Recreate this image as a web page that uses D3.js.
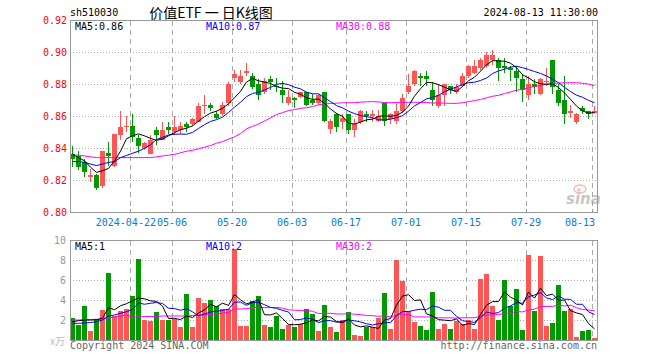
<!DOCTYPE html>
<html><head><meta charset="utf-8">
<script src="https://cdn.jsdelivr.net/npm/d3@7"></script>
<style>
html,body{margin:0;padding:0;background:#fff;}
svg{display:block;}
text{font-family:"DejaVu Sans Mono",monospace;font-size:10px;}
</style></head><body>
<svg id="chart" width="660" height="360"></svg>
<script>
// ---------- data ----------
const dates = [
"2024-04-08","2024-04-09","2024-04-10","2024-04-11","2024-04-12","2024-04-15","2024-04-16","2024-04-17","2024-04-18","2024-04-19",
"2024-04-22","2024-04-23","2024-04-24","2024-04-25","2024-04-26","2024-04-29","2024-04-30","2024-05-06","2024-05-07","2024-05-08",
"2024-05-09","2024-05-10","2024-05-13","2024-05-14","2024-05-15","2024-05-16","2024-05-17","2024-05-20","2024-05-21","2024-05-22",
"2024-05-23","2024-05-24","2024-05-27","2024-05-28","2024-05-29","2024-05-30","2024-05-31","2024-06-03","2024-06-04","2024-06-05",
"2024-06-06","2024-06-07","2024-06-11","2024-06-12","2024-06-13","2024-06-14","2024-06-17","2024-06-18","2024-06-19","2024-06-20",
"2024-06-21","2024-06-24","2024-06-25","2024-06-26","2024-06-27","2024-06-28","2024-07-01","2024-07-02","2024-07-03","2024-07-04",
"2024-07-05","2024-07-08","2024-07-09","2024-07-10","2024-07-11","2024-07-12","2024-07-15","2024-07-16","2024-07-17","2024-07-18",
"2024-07-19","2024-07-22","2024-07-23","2024-07-24","2024-07-25","2024-07-26","2024-07-29","2024-07-30","2024-07-31","2024-08-01",
"2024-08-02","2024-08-05","2024-08-06","2024-08-07","2024-08-08","2024-08-09","2024-08-12","2024-08-13"];

const open = [
0.836,0.835,0.831,0.822,0.823,0.816,0.837,0.829,0.848,0.853,
0.854,0.846,0.840,0.836,0.851,0.845,0.853,0.850,0.851,0.855,
0.855,0.856,0.866,0.867,0.861,0.861,0.868,0.884,0.881,0.887,
0.885,0.880,0.875,0.883,0.879,0.876,0.868,0.871,0.872,0.875,
0.870,0.868,0.875,0.852,0.861,0.856,0.861,0.851,0.856,0.861,
0.860,0.857,0.868,0.858,0.857,0.863,0.875,0.880,0.885,0.885,
0.876,0.866,0.873,0.879,0.875,0.879,0.885,0.887,0.890,0.891,
0.895,0.895,0.891,0.890,0.888,0.883,0.873,0.880,0.874,0.881,
0.895,0.876,0.870,0.862,0.856,0.865,0.863,0.862];
const high = [
0.841,0.838,0.833,0.827,0.824,0.838,0.844,0.849,0.863,0.860,
0.861,0.848,0.844,0.848,0.853,0.856,0.856,0.860,0.856,0.856,
0.859,0.868,0.873,0.868,0.863,0.869,0.881,0.889,0.889,0.893,
0.887,0.883,0.884,0.885,0.884,0.882,0.876,0.872,0.875,0.875,
0.874,0.874,0.875,0.858,0.862,0.861,0.861,0.858,0.864,0.863,
0.864,0.864,0.868,0.862,0.868,0.874,0.886,0.889,0.887,0.888,
0.881,0.880,0.880,0.879,0.880,0.887,0.892,0.895,0.896,0.900,
0.901,0.896,0.896,0.891,0.891,0.886,0.885,0.883,0.884,0.890,
0.895,0.880,0.885,0.867,0.862,0.866,0.863,0.866];
const low = [
0.828,0.826,0.822,0.819,0.814,0.815,0.829,0.828,0.845,0.850,
0.844,0.837,0.839,0.836,0.842,0.845,0.849,0.848,0.849,0.850,
0.854,0.856,0.861,0.863,0.858,0.860,0.866,0.881,0.880,0.885,
0.877,0.870,0.874,0.876,0.875,0.868,0.867,0.865,0.871,0.866,
0.867,0.867,0.856,0.849,0.850,0.852,0.849,0.847,0.855,0.856,
0.856,0.856,0.854,0.855,0.855,0.862,0.874,0.879,0.879,0.879,
0.866,0.865,0.866,0.874,0.874,0.878,0.884,0.886,0.889,0.890,
0.892,0.882,0.887,0.882,0.875,0.869,0.870,0.874,0.873,0.879,
0.874,0.866,0.855,0.859,0.855,0.861,0.858,0.861];
const close = [
0.833,0.828,0.825,0.823,0.815,0.838,0.835,0.849,0.853,0.854,
0.847,0.841,0.843,0.845,0.848,0.851,0.851,0.853,0.854,0.853,
0.858,0.866,0.867,0.865,0.859,0.867,0.880,0.886,0.885,0.888,
0.878,0.873,0.882,0.881,0.878,0.873,0.872,0.870,0.875,0.867,
0.868,0.873,0.857,0.857,0.853,0.859,0.851,0.855,0.863,0.860,
0.861,0.860,0.857,0.861,0.863,0.871,0.879,0.888,0.884,0.883,
0.870,0.873,0.880,0.876,0.878,0.885,0.891,0.891,0.895,0.898,
0.898,0.890,0.890,0.889,0.884,0.876,0.880,0.878,0.883,0.882,
0.878,0.868,0.861,0.863,0.861,0.863,0.861,0.863];
// volume, in units of 10k lots
const volume = [
2.23,1.5,3.4,0.93,2.07,3.0,6.73,2.4,2.93,3.1,
4.43,8.13,2.0,1.93,2.83,2.0,2.0,2.07,1.3,4.6,
1.3,4.2,3.7,4.0,3.4,3.1,3.1,9.1,1.4,1.4,
3.93,4.4,1.5,1.3,2.4,1.1,1.5,1.3,1.6,3.1,
2.6,0.95,3.5,1.33,0.83,2.0,2.83,0.5,0.4,1.33,
1.33,2.23,4.73,1.1,8.0,5.93,2.9,1.83,1.4,1.0,
4.83,1.1,1.6,1.1,1.93,1.6,2.0,1.1,6.1,6.6,
3.4,2.0,6.0,3.4,5.1,1.0,8.5,2.9,8.4,1.4,
1.73,5.5,2.9,3.13,0.3,0.9,1.0,0.2];

// moving-average values at the start of the window (read from the chart,
// their earlier inputs are not shown)
const priceMA5Head  = [0.836,0.834,0.832,0.828];
const priceMA10Head = [0.8315,0.8315,0.831,0.830,0.829,0.830,0.831,0.8315,0.834];
const priceMA30Head = [0.8355,0.8355,0.835,0.8345,0.834,0.834,0.834,0.834,0.834,0.834,
  0.834,0.834,0.834,0.834,0.8345,0.835,0.8355,0.836,0.837,0.838,
  0.8385,0.8395,0.8405,0.8415,0.843,0.844,0.8455,0.847,0.849];
const volMA5Head  = [1.83,1.93,2.0,2.0];
const volMA10Head = [1.67,1.67,1.7,1.75,1.83,2.0,2.4,2.5,2.67];
const volMA30Head = [2.0,2.0,2.03,2.05,2.07,2.1,2.2,2.3,2.4,2.5,
  2.3,2.3,2.35,2.35,2.35,2.4,2.4,2.4,2.4,2.4,
  2.45,2.5,2.5,2.55,2.6,2.7,2.75,3.1,3.1];

const tickDates  = ["2024-04-22","2024-05-06","2024-05-20","2024-06-03","2024-06-17","2024-07-01","2024-07-15","2024-07-29","2024-08-13"];
const tickLabels = ["2024-04-22","05-06","05-20","06-03","06-17","07-01","07-15","07-29","08-13"];
const priceTicks = [0.80,0.82,0.84,0.86,0.88,0.90,0.92];
const volTicks = [2,4,6,8,10];
const priceLegend = ["MA5:0.86","MA10:0.87","MA30:0.88"];
const volLegend = ["MA5:1","MA10:2","MA30:2"];
const maColors = ["#000000","#0000ff","#ff00ff"];

// ---------- layout ----------
const L = 70, R = 598, PT = 20, PB = 212, VT = 240, VB = 340;
const UP = "#ff5555", DOWN = "#009900", GRID = "#aaaaaa", BORDER = "#999999";

const svg = d3.select("#chart");
const x = d3.scaleBand().domain(dates).range([L - 0.5, R - 0.5]).paddingInner(1/6).paddingOuter(1/12);
const yP = d3.scaleLinear().domain([0.80, 0.92]).range([PB, PT]);
const yV = d3.scaleLinear().domain([0, 10]).range([VB, VT]);
const bw = x.bandwidth();

function ma(values, n, head) {
  return values.map((v, i) => i < n - 1 ? head[i] : d3.mean(values.slice(i - n + 1, i + 1)));
}
const pMA = [ma(close, 5, priceMA5Head), ma(close, 10, priceMA10Head), ma(close, 30, priceMA30Head)];
const vMA = [ma(volume, 5, volMA5Head), ma(volume, 10, volMA10Head), ma(volume, 30, volMA30Head)];

// ---------- header ----------
svg.append("text").attr("x", 70).attr("y", 16).attr("fill", "#000").text("sh510030");
svg.append("text").attr("x", 211).attr("y", 18).attr("text-anchor", "middle")
  .style("font-family", "'Noto Sans CJK SC', sans-serif").style("font-size", "14px")
  .style("white-space", "pre")
  .attr("fill", "#000").text("价值ETF 一 日K线图");
svg.append("text").attr("x", 598).attr("y", 16).attr("text-anchor", "end").attr("fill", "#000").text("2024-08-13 11:30:00");

// ---------- grids ----------
const grid = svg.append("g");
priceTicks.filter(t => t > 0.801 && t < 0.919).forEach(t => {
  const yy = Math.round(yP(t)) + 0.5;
  grid.append("line").attr("x1", L).attr("x2", R).attr("y1", yy).attr("y2", yy)
    .attr("stroke", GRID).attr("stroke-dasharray", "1,2");
});
volTicks.filter(t => t < 10).forEach(t => {
  const yy = Math.round(yV(t)) + 0.5;
  grid.append("line").attr("x1", L).attr("x2", R).attr("y1", yy).attr("y2", yy)
    .attr("stroke", GRID).attr("stroke-dasharray", "1,2");
});
tickDates.forEach(d => {
  const xx = Math.round(x(d)) + 0.5;
  grid.append("line").attr("x1", xx).attr("x2", xx).attr("y1", PT + 1).attr("y2", PB)
    .attr("stroke", GRID).attr("stroke-dasharray", "5,4");
  grid.append("line").attr("x1", xx).attr("x2", xx).attr("y1", VT + 1).attr("y2", VB)
    .attr("stroke", GRID).attr("stroke-dasharray", "5,4");
  grid.append("line").attr("x1", xx).attr("x2", xx).attr("y1", PB - 3).attr("y2", PB)
    .attr("stroke", BORDER);
});

// ---------- axes labels ----------
priceTicks.forEach(t => {
  svg.append("text").attr("x", 67).attr("y", Math.round(yP(t)) + 4).attr("text-anchor", "end")
    .attr("fill", "#ff0000").text(t.toFixed(2));
});
volTicks.forEach(t => {
  svg.append("text").attr("x", 66).attr("y", Math.round(yV(t)) + 4).attr("text-anchor", "end")
    .attr("fill", "#999999").text(String(t));
});
svg.append("text").attr("x", 65).attr("y", 345).attr("text-anchor", "end")
  .style("font-family", "'Noto Sans CJK SC', sans-serif").attr("fill", "#bbbbbb").text("x万");
// x labels: centred on their gridline, kept inside the plot and not overlapping the next one
const labW = tickLabels.map(s => s.length * 6.02);
const labX = tickDates.map(d => x(d));
labX.forEach((xx, i) => {
  if (xx + labW[i] / 2 > R - 3) labX[i] = R - 3 - labW[i] / 2;
});
for (let i = 0; i < labX.length - 1; i++) {
  const gap = (labX[i + 1] - labW[i + 1] / 2) - (labX[i] + labW[i] / 2);
  if (gap < 1) labX[i] -= (1 - gap);
}
tickLabels.forEach((lab, i) => {
  svg.append("text").attr("x", labX[i]).attr("y", 226).attr("text-anchor", "middle")
    .attr("fill", "#0a7ad6").text(lab);
});

// ---------- watermark ----------
const wm = svg.append("g").attr("opacity", 0.55);
wm.append("ellipse").attr("cx", 580).attr("cy", 189).attr("rx", 6).attr("ry", 4)
  .attr("fill", "none").attr("stroke", "#e88").attr("stroke-width", 1.5);
wm.append("circle").attr("cx", 579).attr("cy", 190).attr("r", 1.8).attr("fill", "#e88");
wm.append("text").attr("x", 566).attr("y", 204)
  .style("font-family", "'DejaVu Sans', sans-serif").style("font-size", "15px")
  .style("font-weight", "bold").style("font-style", "italic").attr("fill", "#999").text("sina");

// ---------- candles ----------
const candles = svg.append("g").attr("shape-rendering", "crispEdges");
dates.forEach((d, i) => {
  const up = close[i] >= open[i];
  const col = up ? UP : DOWN;
  const x0 = Math.round(x(d));
  const yh = Math.round(yP(high[i])), yl = Math.round(yP(low[i]));
  candles.append("rect").attr("x", x0 + 2).attr("y", yh).attr("width", 1).attr("height", Math.max(1, yl - yh)).attr("fill", col);
  const yt = Math.round(yP(Math.max(open[i], close[i]))), yb = Math.round(yP(Math.min(open[i], close[i])));
  candles.append("rect").attr("x", x0).attr("y", yt).attr("width", bw).attr("height", Math.max(1, yb - yt)).attr("fill", col);
});

// ---------- volume bars ----------
const bars = svg.append("g").attr("shape-rendering", "crispEdges");
dates.forEach((d, i) => {
  const up = close[i] >= open[i];
  const yt = Math.round(yV(volume[i]));
  bars.append("rect").attr("x", Math.round(x(d))).attr("y", yt).attr("width", bw)
    .attr("height", Math.max(1, VB - yt)).attr("fill", up ? UP : DOWN);
});

// ---------- MA lines ----------
const lineP = d3.line().x((v, i) => x(dates[i]) + 2.5).y(v => yP(v));
const lineV = d3.line().x((v, i) => x(dates[i]) + 2.5).y(v => yV(v));
[2, 1, 0].forEach(k => {
  svg.append("path").attr("d", lineP(pMA[k])).attr("fill", "none").attr("stroke", maColors[k]).attr("stroke-width", 1);
  svg.append("path").attr("d", lineV(vMA[k])).attr("fill", "none").attr("stroke", maColors[k]).attr("stroke-width", 1);
});

// ---------- borders ----------
svg.append("rect").attr("x", L + 0.5).attr("y", PT + 0.5).attr("width", R - L - 1).attr("height", PB - PT)
  .attr("fill", "none").attr("stroke", BORDER);
svg.append("rect").attr("x", L + 0.5).attr("y", VT + 0.5).attr("width", R - L - 1).attr("height", VB - VT)
  .attr("fill", "none").attr("stroke", BORDER);

// ---------- legends ----------
const legX = [75, 206, 336];
priceLegend.forEach((t, k) => svg.append("text").attr("x", legX[k]).attr("y", 30).attr("fill", maColors[k]).text(t));
volLegend.forEach((t, k) => svg.append("text").attr("x", legX[k]).attr("y", 250).attr("fill", maColors[k]).text(t));

// ---------- footer ----------
svg.append("text").attr("x", 70).attr("y", 349).attr("fill", "#666").text("Copyright 2024 SINA.COM");
svg.append("text").attr("x", 597).attr("y", 349).attr("text-anchor", "end").attr("fill", "#666").text("http://finance.sina.com.cn");
</script>
</body></html>
